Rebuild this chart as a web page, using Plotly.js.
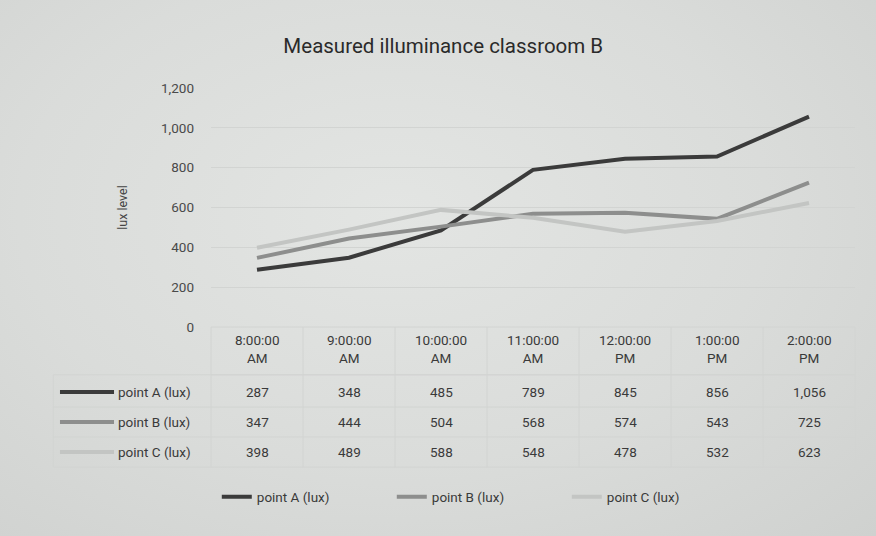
<!DOCTYPE html>
<html>
<head>
<meta charset="utf-8">
<script src="https://cdn.plot.ly/plotly-3.0.1.min.js"></script>
<style>
  html, body { margin: 0; padding: 0; }
  body {
    width: 876px; height: 536px; overflow: hidden;
    background: radial-gradient(ellipse at 45% 40%, #e3e5e3 0%, #dadcda 55%, #cfd1cf 100%);
  }
  #chart { width: 876px; height: 536px; }
</style>
</head>
<body>
<div id="chart"></div>
<script>
// ---- data ----
const times = ["8:00:00 AM", "9:00:00 AM", "10:00:00 AM", "11:00:00 AM", "12:00:00 PM", "1:00:00 PM", "2:00:00 PM"];
const timeLabels = ["8:00:00<br>AM", "9:00:00<br>AM", "10:00:00<br>AM", "11:00:00<br>AM", "12:00:00<br>PM", "1:00:00<br>PM", "2:00:00<br>PM"];
const seriesNames = ["point A (lux)", "point B (lux)", "point C (lux)"];
const pointA = [287, 348, 485, 789, 845, 856, 1056];
const pointB = [347, 444, 504, 568, 574, 543, 725];
const pointC = [398, 489, 588, 548, 478, 532, 623];
const yTicks = [0, 200, 400, 600, 800, 1000, 1200];

const colors = ["#3b3b3b", "#8d8e8d", "#c3c5c3"];
const allSeries = [pointA, pointB, pointC];
const FONT = "Roboto, 'Noto Sans', sans-serif";
const textColor = "#3a3a3a";
const gridColor = "#d2d4d2";

const traces = allSeries.map((vals, i) => ({
  type: "scatter", mode: "lines", name: seriesNames[i],
  x: times, y: vals,
  line: { color: colors[i], width: 4 },
  hoverinfo: "skip"
}));

// table geometry (paper fractions)
const rowY = [-0.272, -0.397, -0.523];
const rowLines = [0, -0.2, -0.335, -0.46, -0.586];
const labelX = -0.1475;
const keyX0 = -0.2345, keyX1 = -0.1506;
const tableLeft = -0.245;

const annotations = [];
timeLabels.forEach((t, j) => {
  annotations.push({ xref: "x", yref: "paper", x: times[j], y: -0.092, text: t,
    showarrow: false, xanchor: "center", yanchor: "middle",
    font: { family: FONT, size: 13.5, color: textColor } });
});
allSeries.forEach((vals, i) => {
  annotations.push({ xref: "paper", yref: "paper", x: labelX, y: rowY[i], text: seriesNames[i],
    showarrow: false, xanchor: "left", yanchor: "middle",
    font: { family: FONT, size: 13.5, color: textColor } });
  vals.forEach((v, j) => {
    annotations.push({ xref: "x", yref: "paper", x: times[j], y: rowY[i],
      text: v.toLocaleString("en-US"), showarrow: false, xanchor: "center", yanchor: "middle",
      font: { family: FONT, size: 13.5, color: textColor } });
  });
});

const shapes = [];
rowLines.forEach((y, k) => {
  shapes.push({ type: "line", xref: "paper", yref: "paper",
    x0: k < 2 ? 0 : tableLeft, x1: 1, y0: y, y1: y,
    line: { color: gridColor, width: 1 } });
});
shapes.push({ type: "line", xref: "paper", yref: "paper", x0: tableLeft, x1: 1, y0: -0.2, y1: -0.2,
  line: { color: gridColor, width: 1 } });
for (let k = 0; k <= times.length; k++) {
  shapes.push({ type: "line", xref: "paper", yref: "paper",
    x0: k / times.length, x1: k / times.length, y0: 0, y1: rowLines[4],
    line: { color: gridColor, width: 1 } });
}
shapes.push({ type: "line", xref: "paper", yref: "paper", x0: tableLeft, x1: tableLeft,
  y0: -0.2, y1: rowLines[4], line: { color: gridColor, width: 1 } });
allSeries.forEach((vals, i) => {
  shapes.push({ type: "line", xref: "paper", yref: "paper", x0: keyX0, x1: keyX1,
    y0: rowY[i], y1: rowY[i], line: { color: colors[i], width: 4 } });
});

const layout = {
  width: 876, height: 536,
  margin: { l: 211, r: 21, t: 88, b: 209 },
  paper_bgcolor: "rgba(0,0,0,0)",
  plot_bgcolor: "rgba(0,0,0,0)",
  font: { family: FONT, color: textColor, size: 13.5 },
  title: { text: "Measured illuminance classroom B", x: 0.506, xref: "container",
    y: 0.915, yref: "container", yanchor: "middle",
    font: { family: FONT, size: 20.5, color: "#2a2a2a" } },
  xaxis: { type: "category", showticklabels: false, showgrid: false, zeroline: false,
    showline: false, ticks: "", range: [-0.5, times.length - 0.5] },
  yaxis: { range: [0, 1200], tickvals: yTicks, tickformat: ",", showgrid: true,
    gridcolor: gridColor, gridwidth: 1, zeroline: false, showline: false,
    ticks: "", ticklabelstandoff: 16,
    tickfont: { family: FONT, size: 13.5, color: "#4a4a4a" },
    title: { text: "lux level", standoff: 30, font: { family: FONT, size: 12.5, color: "#444" } } },
  showlegend: true,
  legend: { orientation: "h", x: 0.009, xanchor: "left", y: -0.711, yanchor: "middle",
    entrywidth: 130, entrywidthmode: "pixels", bgcolor: "rgba(0,0,0,0)",
    font: { family: FONT, size: 13.5, color: textColor } },
  annotations: annotations,
  shapes: shapes
};

Plotly.newPlot("chart", traces, layout, { displayModeBar: false, staticPlot: true });
</script>
</body>
</html>
